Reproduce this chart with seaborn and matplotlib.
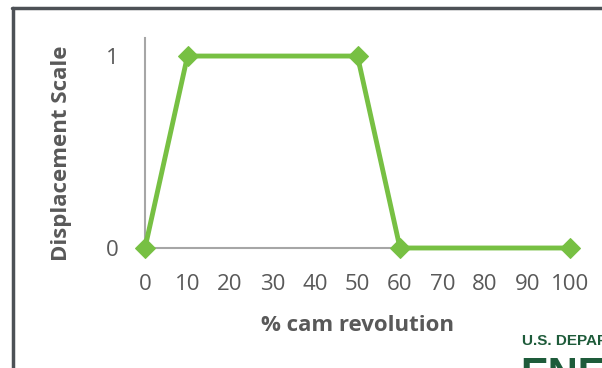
import matplotlib
matplotlib.use("Agg")
import matplotlib.pyplot as plt
import seaborn as sns
import pandas as pd

# cam revolution (%) vs displacement
cam_pct = [0, 10, 50, 60, 100]
displacement = [0, 1, 1, 0, 0]
x_ticks = [0, 10, 20, 30, 40, 50, 60, 70, 80, 90, 100]
y_ticks = [0, 1]

green = "#77C043"
text_col = "#595959"
axis_col = "#A6A6A6"

sns.set_style("white")
plt.rcParams['font.family'] = ['Open Sans', 'DejaVu Sans']

df = pd.DataFrame({"cam": cam_pct, "disp": displacement})

fig = plt.figure(figsize=(6.02, 3.68), dpi=100)
ax = fig.add_axes([145/602, 1-248/368, 425/602, 210/368])

sns.lineplot(data=df, x="cam", y="disp", ax=ax, color=green, linewidth=3.5,
             marker="D", markersize=10, markeredgecolor=green, clip_on=False, zorder=5)

ax.set_xlim(0, 100)
ax.set_ylim(0, 1.094)
ax.set_xticks(x_ticks)
ax.set_yticks(y_ticks)
ax.tick_params(axis="both", colors=axis_col, labelcolor=text_col, labelsize=16,
               length=5, width=1.2)
ax.tick_params(axis="x", pad=14)
ax.tick_params(axis="y", pad=14)
for side in ["top", "right"]:
    ax.spines[side].set_visible(False)
for side in ["left", "bottom"]:
    ax.spines[side].set_color(axis_col)
    ax.spines[side].set_linewidth(1.5)

ax.set_xlabel("% cam revolution", fontsize=16, fontweight="bold", color=text_col, labelpad=14)
ax.set_ylabel("")
fig.text(62/602, 1-153/368, "Displacement Scale", rotation=90, fontsize=16,
         fontweight="bold", color=text_col, ha="center", va="center")

# outer frame
fig.add_artist(plt.Line2D([13/602, 13/602], [0, 1-7.5/368], color="#4D5156", linewidth=2.5))
fig.add_artist(plt.Line2D([12/602, 1], [1-7.5/368, 1-7.5/368], color="#4D5156", linewidth=2.5))

# logo fragment bottom right
fig.text(522/602, 1-341/368, "U.S. DEPARTMENT OF", fontsize=11, fontweight="bold",
         color="#1E5B3A", ha="left", va="center", family="Liberation Sans")
fig.text(520/602, 1-387/368, "ENERGY", fontsize=30, fontweight="bold",
         color="#1E5B3A", ha="left", va="baseline", family="Liberation Sans")

fig.savefig("out.png", dpi=100)
